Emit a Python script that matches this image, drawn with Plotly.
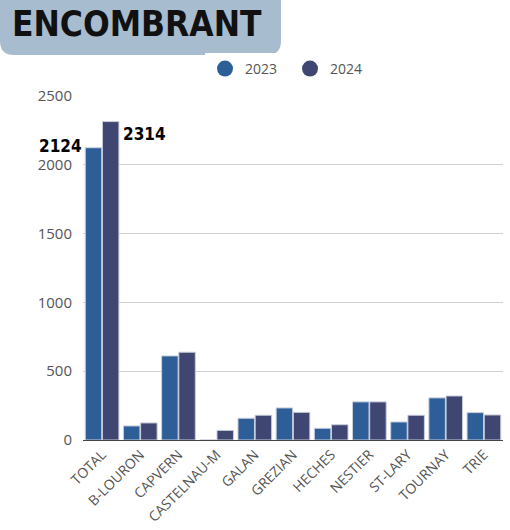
import plotly.graph_objects as go

categories = ["TOTAL", "B-LOURON", "CAPVERN", "CASTELNAU-M", "GALAN", "GREZIAN",
              "HECHES", "NESTIER", "ST-LARY", "TOURNAY", "TRIE"]
values_2023 = [2124, 102, 611, 0, 158, 233, 85, 277, 131, 306, 199]
values_2024 = [2314, 124, 638, 70, 180, 201, 111, 277, 180, 320, 182]
series_names = ["2023", "2024"]
colors = ["#2d5e98", "#3e4671"]

W, H = 510, 530
L, R, T, B = 83, 7, 96, 90
pw, ph = W - L - R, H - T - B

def px(x):
    return (x - L) / pw

def py(y):
    return (H - B - y) / ph

fig = go.Figure()
for name, vals, col in zip(series_names, [values_2023, values_2024], colors):
    fig.add_trace(go.Bar(x=categories, y=vals, name=name, marker_color=col,
                         marker_line=dict(color="#c9cfdc", width=1), showlegend=False))
for name, col in zip(series_names, colors):
    fig.add_trace(go.Scatter(x=[categories[0]], y=[None], mode="markers", name=name,
                             marker=dict(color=col, size=16, symbol="circle")))

# title box
x0, x1, y0, y1, r = 0, 281, -20, 55, 14
path = (f"M {px(x0)},{py(y0)} L {px(x1 - r)},{py(y0)} "
        f"Q {px(x1)},{py(y0)} {px(x1)},{py(y0 + r)} "
        f"L {px(x1)},{py(y1 - r)} Q {px(x1)},{py(y1)} {px(x1 - r)},{py(y1)} "
        f"L {px(x0 + r)},{py(y1)} Q {px(x0)},{py(y1)} {px(x0)},{py(y1 - r)} Z")
fig.add_shape(type="path", path=path, xref="paper", yref="paper",
              fillcolor="#a8bccf", line=dict(width=0), layer="below")
fig.add_annotation(text="<b>ENCOMBRANT</b>", xref="paper", yref="paper", x=px(137), y=py(24),
                   showarrow=False, xanchor="center", yanchor="middle",
                   font=dict(family="DejaVu Sans Condensed", size=35, color="#111"))

# value labels on TOTAL
fig.add_annotation(text="<b>%d</b>" % values_2023[0], x=categories[0], y=values_2023[0],
                   xref="x", yref="y", showarrow=False, xanchor="right", yanchor="middle",
                   xshift=-18, yshift=2,
                   font=dict(family="DejaVu Sans Condensed", size=17, color="#000"))
fig.add_annotation(text="<b>%d</b>" % values_2024[0], x=categories[0], y=values_2024[0],
                   xref="x", yref="y", showarrow=False, xanchor="left", yanchor="middle",
                   xshift=19, yshift=-12,
                   font=dict(family="DejaVu Sans Condensed", size=17, color="#000"))

fig.update_layout(
    width=W, height=H,
    margin=dict(l=L, r=R, t=T, b=B, autoexpand=False),
    paper_bgcolor="white", plot_bgcolor="white",
    barmode="group", bargap=0.1, bargroupgap=0.04,
    font=dict(family="Open Sans", color="#555", size=14),
    legend=dict(orientation="h", x=px(290), xanchor="center", y=py(69), yanchor="middle",
                font=dict(size=14, color="#555"), itemwidth=30,
                entrywidth=40, entrywidthmode="pixels"),
    xaxis=dict(tickangle=-45, tickfont=dict(size=14, color="#555"), showgrid=False,
               range=[-0.5, len(categories) - 0.5],
               showline=True, linecolor="#444", linewidth=1, ticks=""),
    yaxis=dict(range=[0, 2500], dtick=500, showgrid=True, gridcolor="#cfcfcf",
               zeroline=False, tickfont=dict(size=15, color="#555"), ticks="",
               ticklabelstandoff=10),
)
fig.write_html("out.html", config={"displayModeBar": False},
               post_script="document.body.style.margin='0';")
